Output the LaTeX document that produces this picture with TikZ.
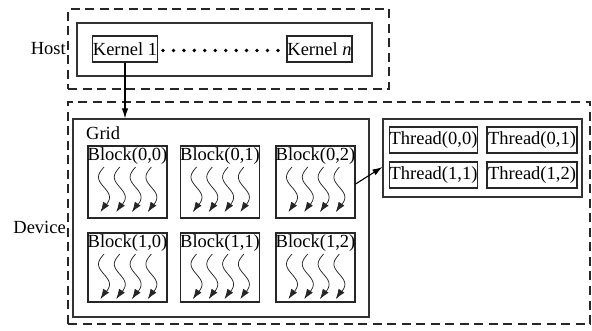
\documentclass[tikz,border=0pt]{standalone}
\usepackage{fontspec}
\setmainfont{Liberation Serif}
\usetikzlibrary{arrows.meta}
\tikzset{
  dashbox/.style={draw=black!85, line width=1.4pt, dash pattern=on 9pt off 5.5pt},
  frame/.style={draw=black!80, line width=1.2pt},
  cell/.style={draw=black!85, line width=1.2pt, inner sep=0pt},
  lbl/.style={inner sep=0pt, font=\fontsize{18.5}{21}\selectfont},
  squig/.style={draw=black!85, line width=0.75pt, -{Latex[length=10pt,width=7pt]}},
  conn/.style={draw=black, line width=1.1pt, -{Latex[length=10pt,width=6.5pt]}}
}
\newcommand\squiggle[2]{\draw[squig] plot[domain=0:1,samples=40,smooth] ({#1 - 5.5*sin(400*\x)}, {#2 + 45*\x});}
\begin{document}
\begin{tikzpicture}[x=1pt,y=-1pt]
\useasboundingbox (0,0) rectangle (592,331);
% Host
\node[dashbox, minimum width=321pt, minimum height=80pt, inner sep=0pt] (hostbox) at (228.5,49) {};
\node[frame, minimum width=295pt, minimum height=53pt, inner sep=0pt] (hostin) at (224.5,49.5) {};
\node[lbl, anchor=east] (hostlbl) at (66,49) {Host};
\node[cell, lbl, minimum width=62pt, minimum height=26pt] (k1) at (125,49) {Kernel 1};
\node[cell, lbl, minimum width=65pt, minimum height=26pt] (kn) at (319.5,49) {Kernel \textit{n}};
\foreach \i in {0,...,11} { \fill (163+\i*10.45,50.5) circle (1.9pt); }
% Device
\node[dashbox, minimum width=522pt, minimum height=222pt, inner sep=0pt] (devbox) at (329,213) {};
\node[lbl, anchor=east] (devlbl) at (66,227) {Device};
\node[frame, minimum width=296pt, minimum height=198pt, inner sep=0pt] (grid) at (221,218) {};
\node[lbl, anchor=west] (gridlbl) at (86,133) {Grid};
% Blocks
\foreach \r/\by/\bh in {0/182/72, 1/267.5/69} {
  \foreach \c/\bx in {0/127.5, 1/220, 2/315.5} {
    \node[cell, minimum width=79pt, minimum height=\bh pt] (b\r\c) at (\bx,\by) {};
    \node[lbl, anchor=north, inner sep=0pt] (bt\r\c) at ([yshift=-2pt]b\r\c.north) {Block(\r,\c)};
    \foreach \k in {0,1,2,3} {
      \pgfmathsetmacro\sx{\bx - 23.5 + \k*15.8}
      \pgfmathsetmacro\sy{\by - \bh/2 + 21}
      \squiggle{\sx}{\sy}
    }
  }
}
% Threads
\node[frame, minimum width=199pt, minimum height=78pt, inner sep=0pt] (thr) at (482.5,158) {};
\node[cell, lbl, minimum width=87pt, minimum height=26pt] (t00) at (433.5,140) {Thread(0,0)};
\node[cell, lbl, minimum width=90pt, minimum height=26pt] (t01) at (532,140) {Thread(0,1)};
\node[cell, lbl, minimum width=87pt, minimum height=26pt] (t11) at (433.5,175) {Thread(1,1)};
\node[cell, lbl, minimum width=90pt, minimum height=26pt] (t12) at (532,175) {Thread(1,2)};
% connectors
\draw[conn] (k1.south) -- (k1.south |- grid.north);
\draw[conn] (b02.east |- 0,184) -- (thr.west |- 0,167);
\end{tikzpicture}
\end{document}
